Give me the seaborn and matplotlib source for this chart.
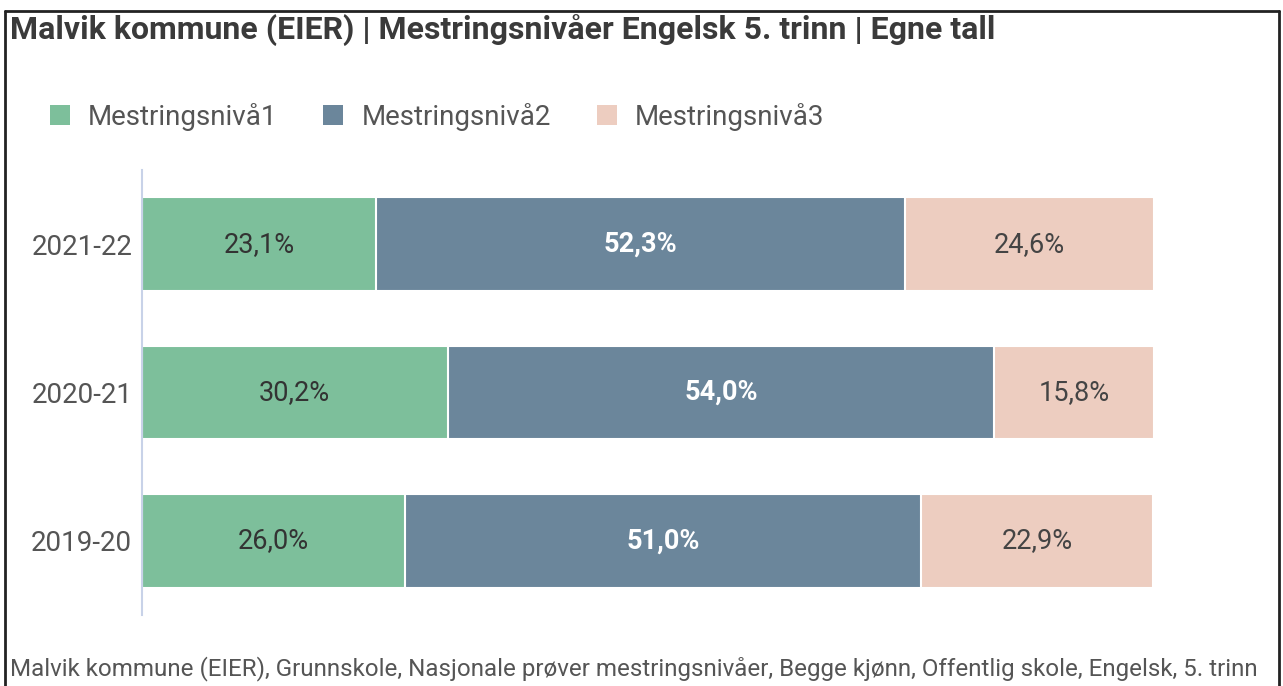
import numpy as np
import pandas as pd
import seaborn as sns
import matplotlib.pyplot as plt
from matplotlib.patches import Patch
from matplotlib.lines import Line2D

# data
years = ["2021-22", "2020-21", "2019-20"]
niva1 = [23.1, 30.2, 26.0]
niva2 = [52.3, 54.0, 51.0]
niva3 = [24.6, 15.8, 22.9]
series_names = ["Mestringsnivå1", "Mestringsnivå2", "Mestringsnivå3"]
colors = ["#7dbf9b", "#6b869b", "#edcdc0"]
label_colors = ["#333333", "#ffffff", "#444444"]

title = "Malvik kommune (EIER) | Mestringsnivåer Engelsk 5. trinn | Egne tall"
footer = ("Malvik kommune (EIER), Grunnskole, Nasjonale prøver mestringsnivåer, "
          "Begge kjønn, Offentlig skole, Engelsk, 5. trinn")

sns.set_theme(style="white")
plt.rcParams['font.family'] = ['Roboto', 'DejaVu Sans']

df = pd.DataFrame({"year": years, "n1": niva1, "n2": niva2, "n3": niva3})
df["c1"] = df["n1"]
df["c2"] = df["n1"] + df["n2"]
df["c3"] = df["c2"] + df["n3"]

W, H = 1283, 686
fig = plt.figure(figsize=(W / 100, H / 100), dpi=100)
ax = fig.add_axes([142 / W, 71 / H, 1012 / W, 445 / H])

# stacked bars: draw cumulative totals from the back
for col, c in zip(["c3", "c2", "c1"], colors[::-1]):
    sns.barplot(data=df, x=col, y="year", order=years, orient="h", color=c,
                width=0.63, edgecolor="white", linewidth=1.5, saturation=1, ax=ax)

# segment labels
for i, yr in enumerate(years):
    left = 0
    for vals, tc in zip([niva1, niva2, niva3], label_colors):
        v = vals[i]
        txt = f"{v:.1f}%".replace(".", ",")
        ax.text(left + v / 2, i, txt, ha="center", va="center", fontsize=19.5,
                color=tc, fontweight="bold" if tc == "#ffffff" else "normal")
        left += v

ax.set_xlim(0, 100)
ax.set_ylim(2.5, -0.5)
ax.set_xlabel("")
ax.set_ylabel("")
ax.set_xticks([])
ax.tick_params(axis="y", length=0, pad=7, labelsize=20, labelcolor="#555555")
for s in ["top", "right", "bottom"]:
    ax.spines[s].set_visible(False)
ax.spines["left"].set_color("#c8d2e8")
ax.spines["left"].set_linewidth(1.5)

# title
fig.text(10 / W, 1 - 31 / H, title, ha="left", va="center", fontsize=23,
         fontweight="bold", color="#3a3a3a")

# legend
handles = [Patch(facecolor=c, edgecolor="none") for c in colors]
fig.legend(handles, series_names, loc="center left",
           bbox_to_anchor=(50 / W, 1 - 117 / H), ncol=3, frameon=False,
           fontsize=20, labelcolor="#555555", handlelength=0.72,
           handleheight=0.72, handletextpad=0.65, columnspacing=1.65,
           borderpad=0, borderaxespad=0)

# footer
fig.text(10 / W, 1 - 669 / H, footer, ha="left", va="center", fontsize=17.4,
         color="#555555")

# screenshot frame
fig.add_artist(Line2D([5 / W, 1279 / W], [1 - 11 / H, 1 - 11 / H], color="#222222", lw=2))
fig.add_artist(Line2D([5 / W, 5 / W], [1 - 11 / H, 0], color="#222222", lw=2))
fig.add_artist(Line2D([1279 / W, 1279 / W], [1 - 11 / H, 0], color="#222222", lw=2))

fig.savefig("out.png", dpi=100)
